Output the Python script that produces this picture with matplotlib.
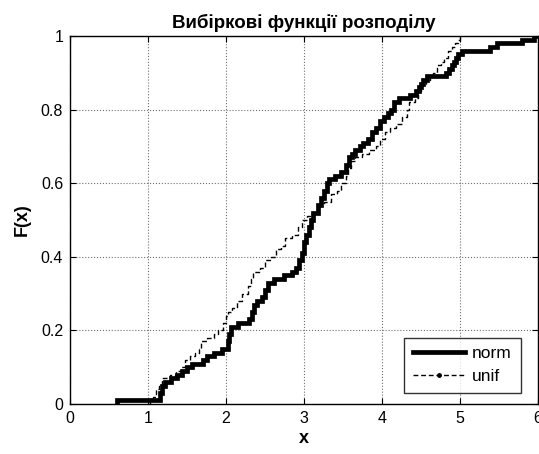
import matplotlib
matplotlib.use("Agg")
import matplotlib.pyplot as plt
from matplotlib.lines import Line2D

plt.rcParams["font.family"] = ["Liberation Sans", "DejaVu Sans"]

# ECDF breakpoints: x where the step happens, F after it
norm_x = [0.60, 1.15, 1.18, 1.22, 1.30, 1.37, 1.43, 1.50, 1.56, 1.70,
          1.76, 1.84, 1.95, 2.02, 2.04, 2.07, 2.15, 2.30, 2.33, 2.36,
          2.40, 2.46, 2.50, 2.54, 2.62, 2.74, 2.84, 2.90, 2.94, 2.97,
          3.00, 3.03, 3.06, 3.09, 3.12, 3.18, 3.22, 3.26, 3.29, 3.32,
          3.40, 3.48, 3.54, 3.58, 3.62, 3.66, 3.72, 3.76, 3.82, 3.87,
          3.92, 3.97, 4.03, 4.08, 4.12, 4.16, 4.22, 4.36, 4.44, 4.48,
          4.50, 4.53, 4.58, 4.82, 4.86, 4.90, 4.93, 4.95, 4.97, 5.02,
          5.38, 5.48, 5.80, 5.95, 6.00]
norm_F = [0.01, 0.03, 0.05, 0.06, 0.07, 0.08, 0.09, 0.10, 0.11, 0.12,
          0.13, 0.14, 0.15, 0.17, 0.19, 0.21, 0.22, 0.23, 0.25, 0.27,
          0.28, 0.29, 0.31, 0.33, 0.34, 0.35, 0.36, 0.37, 0.39, 0.41,
          0.44, 0.46, 0.48, 0.50, 0.52, 0.54, 0.56, 0.58, 0.60, 0.61,
          0.62, 0.63, 0.65, 0.67, 0.68, 0.69, 0.70, 0.71, 0.72, 0.74,
          0.75, 0.77, 0.78, 0.79, 0.80, 0.82, 0.83, 0.84, 0.85, 0.86,
          0.87, 0.88, 0.89, 0.90, 0.91, 0.92, 0.93, 0.94, 0.95, 0.96,
          0.97, 0.98, 0.99, 1.00, 1.00]

unif_x = [1.02, 1.06, 1.10, 1.14, 1.18, 1.28, 1.36, 1.42, 1.47, 1.54,
          1.60, 1.65, 1.68, 1.75, 1.84, 1.90, 1.96, 2.00, 2.02, 2.08,
          2.14, 2.20, 2.28, 2.32, 2.35, 2.44, 2.50, 2.58, 2.64, 2.70,
          2.76, 2.84, 2.92, 2.98, 3.04, 3.10, 3.18, 3.26, 3.34, 3.42,
          3.48, 3.54, 3.57, 3.60, 3.66, 3.74, 3.84, 3.92, 3.98, 4.04,
          4.10, 4.18, 4.26, 4.32, 4.35, 4.42, 4.46, 4.50, 4.56, 4.62,
          4.66, 4.70, 4.76, 4.80, 4.85, 4.90, 4.94, 4.97, 5.00]
unif_F = [0.01, 0.02, 0.04, 0.05, 0.07, 0.08, 0.09, 0.10, 0.12, 0.13,
          0.14, 0.15, 0.17, 0.18, 0.19, 0.20, 0.22, 0.24, 0.25, 0.26,
          0.28, 0.30, 0.32, 0.34, 0.36, 0.37, 0.39, 0.40, 0.42, 0.43,
          0.45, 0.46, 0.48, 0.50, 0.51, 0.52, 0.54, 0.55, 0.57, 0.58,
          0.60, 0.62, 0.64, 0.66, 0.67, 0.68, 0.69, 0.70, 0.72, 0.74,
          0.75, 0.76, 0.78, 0.80, 0.82, 0.83, 0.85, 0.87, 0.88, 0.89,
          0.90, 0.92, 0.93, 0.94, 0.96, 0.97, 0.98, 0.99, 1.00]

labels = ["norm", "unif"]
title = "Вибіркові функції розподілу"


def main():
    fig = plt.figure(figsize=(5.39, 4.54), dpi=100)
    ax = fig.add_axes([0.130, 0.110, 0.868, 0.811])

    # start each curve on the x-axis, like cdfplot
    ax.step([norm_x[0]] + norm_x, [0] + norm_F, where="post",
            color="black", lw=3.4, solid_joinstyle="miter")
    ax.step([unif_x[0]] + unif_x, [0] + unif_F, where="post",
            color="black", lw=1.0, ls=(0, (3.5, 2.0)))

    ax.set_xlim(0, 6)
    ax.set_ylim(0, 1)
    ax.set_xticks(range(7))
    ax.set_yticks([0, 0.2, 0.4, 0.6, 0.8, 1])
    ax.set_yticklabels(["0", "0.2", "0.4", "0.6", "0.8", "1"])
    ax.tick_params(direction="in", top=True, right=True, length=4,
                   width=0.8, labelsize=11.5, pad=5)
    ax.grid(True, color="#707070", ls=":", lw=0.8)
    for s in ax.spines.values():
        s.set_linewidth(1.0)

    ax.set_title(title, fontsize=13.5, fontweight="bold", pad=6)
    ax.set_xlabel("x", fontsize=13, fontweight="bold", labelpad=3)
    ax.set_ylabel("F(x)", fontsize=13, fontweight="bold", labelpad=7)

    handles = [
        Line2D([], [], color="black", lw=3.4),
        Line2D([], [], color="black", lw=1.0, ls=(0, (3.5, 2.0)),
               marker=".", markersize=5, markevery=[1]),
    ]
    leg = ax.legend(handles, labels, loc="lower right", fontsize=12.5,
                    frameon=True, fancybox=False, handlelength=3.0,
                    bbox_to_anchor=(0.963, 0.03),
                    borderaxespad=0.0, borderpad=0.5, labelspacing=0.45,
                    handletextpad=0.4)
    leg.get_frame().set_edgecolor("black")
    leg.get_frame().set_linewidth(1.0)

    fig.savefig("out.png", dpi=100)
    plt.close(fig)


if __name__ == "__main__":
    main()
